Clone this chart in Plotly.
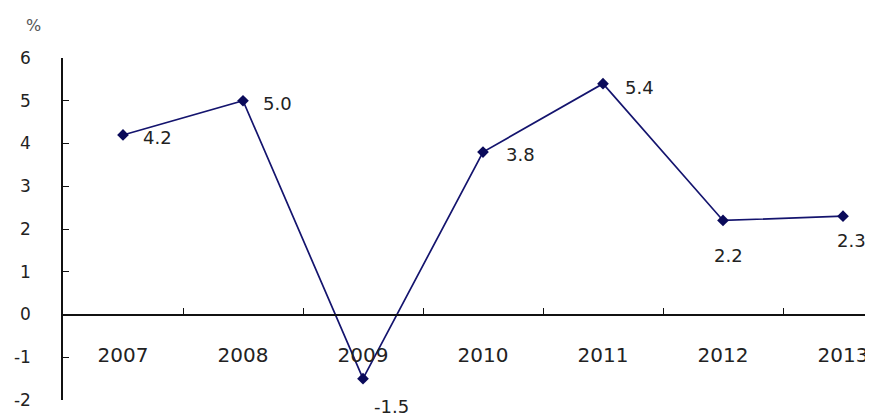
import plotly.graph_objects as go

years = ["2007", "2008", "2009", "2010", "2011", "2012", "2013"]
values = [4.2, 5.0, -1.5, 3.8, 5.4, 2.2, 2.3]
value_labels = ["4.2", "5.0", "-1.5", "3.8", "5.4", "2.2", "2.3"]
y_ticks = [-2, -1, 0, 1, 2, 3, 4, 5, 6]
y_tick_text = ["-2", "-1", "0", "1", "2", "3", "4", "5", "6"]

# label offsets (style)
label_xshift = [34, 34, 28, 37, 36, 5, 8]
label_yshift = [-3, -3, -28, -2, -4, -35, -24]

LINE = "#14146e"
TEXT = "#222222"
FONT = "DejaVu Sans"

fig = go.Figure()
fig.add_trace(go.Scatter(
    x=years, y=values, mode="lines+markers",
    line=dict(color=LINE, width=1.7),
    marker=dict(symbol="diamond", size=9, color="#0a0a5a"),
    cliponaxis=False, showlegend=False,
))

for i, (y, t, dx, dy) in enumerate(zip(values, value_labels, label_xshift, label_yshift)):
    fig.add_annotation(x=i, y=y, xref="x", yref="y", text=t, showarrow=False,
                       xshift=dx, yshift=dy,
                       font=dict(family=FONT, size=18, color=TEXT))

fig.add_annotation(xref="paper", yref="paper", x=-0.036, y=1.096, text="%",
                   xanchor="center", yanchor="middle",
                   showarrow=False, font=dict(family=FONT, size=16, color="#555555"))

fig.update_layout(
    width=873, height=418,
    margin=dict(l=55, r=8, t=50, b=26, autoexpand=False),
    plot_bgcolor="white", paper_bgcolor="white",
    xaxis=dict(
        type="category", range=[-0.5, 6.25],
        anchor="free", position=2/8, automargin=False,
        showline=True, linecolor="#111111", linewidth=1.5,
        ticks="inside", ticklen=6, tickcolor="#111111", tickson="boundaries",
        showgrid=False, zeroline=False,
        tickfont=dict(family=FONT, size=20, color=TEXT),
        ticklabelstandoff=23,
    ),
    yaxis=dict(
        range=[-2, 6], tickvals=y_ticks, ticktext=y_tick_text, automargin=False,
        showline=True, linecolor="#111111", linewidth=1.5,
        ticks="inside", ticklen=6, tickcolor="#111111",
        showgrid=False, zeroline=False,
        tickfont=dict(family=FONT, size=17, color=TEXT),
        ticklabelstandoff=27,
    ),
)

fig.write_html("out.html")
